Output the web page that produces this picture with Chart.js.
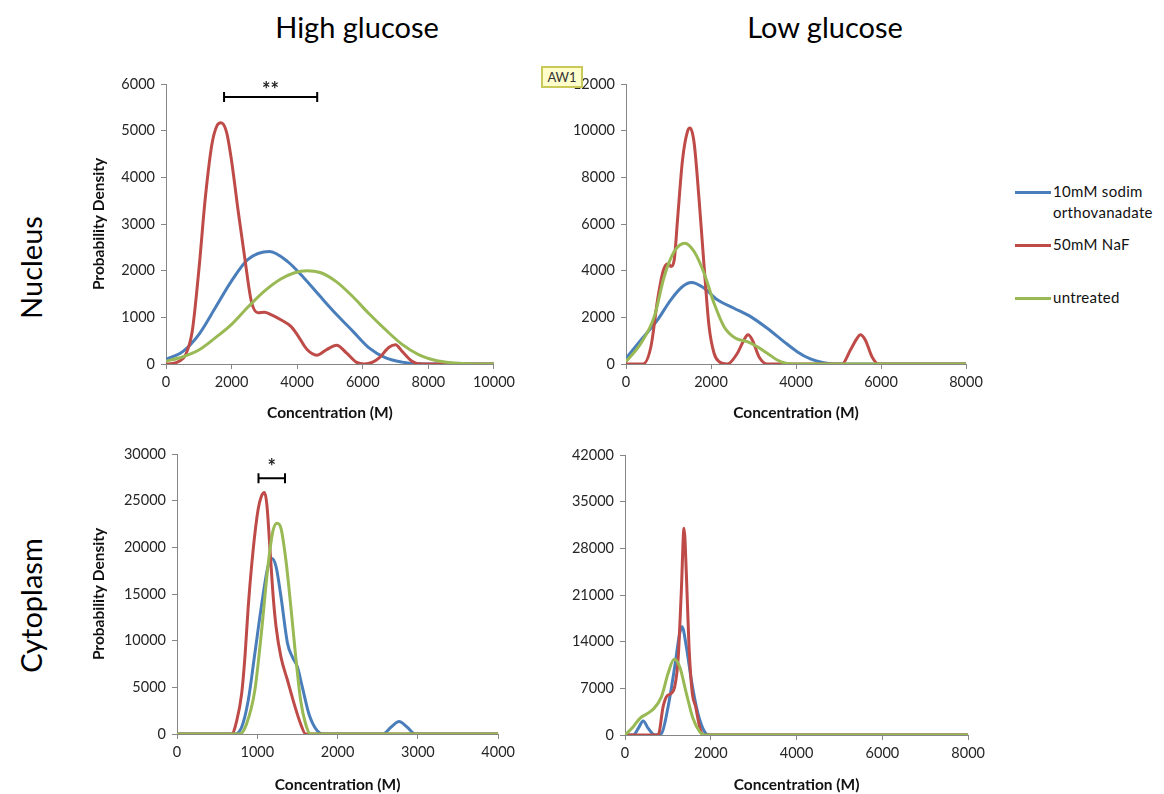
<!DOCTYPE html>
<html>
<head>
<meta charset="utf-8">
<script src="https://cdn.jsdelivr.net/npm/chart.js@4.4.0/dist/chart.umd.min.js"></script>
<style>
  body { margin: 0; background: #fff; width: 1164px; height: 794px; position: relative; overflow: hidden; font-family: Lato, "Open Sans", sans-serif; }
  canvas { position: absolute; }
  .head { position: absolute; width: 240px; text-align: center; font-size: 29px; color: #000; }
  .side { position: absolute; width: 240px; text-align: center; font-size: 29px; color: #000; transform: rotate(-90deg); }
  .legend { position: absolute; left: 1015px; font-size: 15px; color: #111; letter-spacing: 0.3px; }
  .legend div { position: absolute; width: 140px; line-height: 21px; }
  .legend span { position: absolute; width: 36px; height: 3px; left: 0; }
  .legend p { margin: 0 0 0 38px; }
  .aw { position: absolute; left: 541px; top: 66px; width: 38px; height: 18px; background: #ffffcc; border: 2px solid #c9c95a; font-size: 13px; line-height: 18px; text-align: center; color: #333; }
</style>
</head>
<body>
<div class="head" style="left:237px; top:9px;">High glucose</div>
<div class="head" style="left:705px; top:9px;">Low glucose</div>
<div class="side" style="left:-90px; top:250px;">Nucleus</div>
<div class="side" style="left:-90px; top:588px;">Cytoplasm</div>

<canvas id="chartHighNuc"></canvas>
<canvas id="chartLowNuc"></canvas>
<canvas id="chartHighCyto"></canvas>
<canvas id="chartLowCyto"></canvas>

<div class="legend" id="legend"></div>
<div class="aw">AW1</div>

<script>
// series names and colours
var seriesNames = ['10mM sodim orthovanadate', '50mM NaF', 'untreated'];
var seriesColors = ['#4a7ebb', '#be4b48', '#98b954'];

// High glucose - nucleus
var hnBlueX = [0, 500, 1000, 1500, 2000, 2500, 3150, 3700, 4200, 4700, 5200, 5700, 6200, 6700, 7200, 7700, 8200, 10000];
var hnBlue = [100, 260, 630, 1200, 1780, 2240, 2410, 2200, 1850, 1450, 1060, 700, 340, 130, 40, 5, 0, 0];
var hnRedX = [0, 200, 400, 600, 800, 1000, 1200, 1400, 1550, 1680, 1850, 2000, 2200, 2400, 2600, 2800, 3000, 3200, 3500, 3800, 4000, 4300, 4600, 4900, 5200, 5500, 5800, 6050, 6300, 6500, 6800, 7000, 7200, 7500, 7800, 10000];
var hnRed = [0, 10, 60, 200, 700, 2000, 3570, 4710, 5100, 5170, 4960, 4350, 3280, 2280, 1350, 1100, 1110, 1060, 950, 810, 630, 310, 190, 310, 400, 240, 40, 0, 40, 130, 360, 415, 270, 60, 0, 0];
var hnGreenX = [0, 500, 1000, 1500, 2000, 2500, 3000, 3500, 3900, 4300, 4700, 5200, 5700, 6200, 6700, 7200, 7700, 8200, 8700, 9200, 10000];
var hnGreen = [60, 150, 300, 560, 850, 1220, 1560, 1820, 1950, 2000, 1960, 1760, 1440, 1070, 730, 420, 200, 80, 25, 5, 0];
var hnSig = [1770, 4610, 5720, '**', 5930];

// Low glucose - nucleus
var lnBlueX = [0, 352, 743, 1055, 1330, 1540, 1838, 2150, 2541, 2933, 3323, 3714, 4027, 4340, 4653, 4966, 8000];
var lnBlue = [240, 1030, 1890, 2750, 3320, 3490, 3250, 2750, 2390, 2030, 1530, 960, 530, 215, 57, 0, 0];
var lnRedX = [0, 400, 586, 743, 860, 938, 1000, 1055, 1134, 1212, 1330, 1447, 1509, 1603, 1720, 1838, 1955, 2072, 2190, 2385, 2620, 2776, 2870, 2972, 3128, 3323, 5083, 5280, 5435, 5513, 5630, 5787, 5943, 8000];
var lnRed = [0, 0, 740, 2750, 3890, 4250, 4300, 4175, 4460, 6180, 8750, 9970, 10110, 9470, 7040, 4175, 1600, 460, 100, 0, 460, 1030, 1250, 1030, 315, 0, 0, 600, 1100, 1250, 1030, 315, 0, 0];
var lnGreenX = [0, 352, 665, 900, 1134, 1384, 1603, 1838, 2072, 2307, 2580, 2854, 3089, 3323, 3636, 3949, 8000];
var lnGreen = [100, 890, 2030, 3750, 4820, 5180, 4820, 3890, 2600, 1600, 1100, 960, 740, 460, 100, 0, 0];

// High glucose - cytoplasm
var hcBlueX = [0, 723, 805, 887, 969, 1050, 1132, 1181, 1234, 1295, 1377, 1438, 1500, 1561, 1643, 1745, 1826, 2562, 2664, 2766, 2868, 2970, 4000];
var hcBlue = [0, 0, 717, 3580, 8600, 13620, 17920, 18800, 17920, 14700, 9680, 8240, 7170, 5020, 2150, 360, 0, 0, 717, 1330, 717, 0, 0];
var hcRedX = [0, 682, 744, 805, 846, 887, 948, 1009, 1050, 1091, 1120, 1164, 1200, 1234, 1295, 1377, 1459, 1540, 1602, 4000];
var hcRed = [0, 0, 1430, 4300, 8240, 13620, 19700, 24000, 25450, 25880, 24500, 19000, 14500, 11470, 8240, 5730, 3230, 1075, 0, 0];
var hcGreenX = [0, 784, 866, 969, 1050, 1132, 1193, 1246, 1295, 1356, 1418, 1479, 1540, 1602, 1663, 4000];
var hcGreen = [0, 0, 1075, 4660, 10750, 17920, 21680, 22580, 22040, 18640, 13620, 8240, 3580, 1075, 0, 0];
var hcSig = [1015, 1345, 27400, '*', 28900];

// Low glucose - cytoplasm
var lcBlueX = [0, 193, 309, 425, 541, 696, 851, 1005, 1159, 1275, 1329, 1430, 1546, 1700, 1855, 1971, 8000];
var lcBlue = [0, 0, 1000, 2100, 1000, 0, 250, 4250, 10250, 15250, 16250, 13250, 8250, 3250, 500, 0, 0];
var lcRedX = [0, 773, 889, 966, 1082, 1159, 1237, 1314, 1376, 1430, 1492, 1569, 1646, 1739, 1817, 8000];
var lcRed = [0, 0, 4250, 5750, 6250, 7250, 11250, 21750, 31000, 24250, 13250, 6250, 4250, 1250, 0, 0];
var lcGreenX = [0, 193, 348, 503, 657, 851, 1005, 1144, 1275, 1430, 1584, 1739, 1855, 8000];
var lcGreen = [0, 1250, 2500, 3150, 3850, 5750, 9250, 11350, 10250, 6250, 2500, 500, 0, 0];

function pts(xs, ys) {
  return xs.map(function (x, i) { return { x: x, y: ys[i] }; });
}

// significance bar drawn through the chart scales
var sigPlugin = {
  id: 'sig',
  afterDatasetsDraw: function (chart, args, opts) {
    if (!opts.bar) return;
    var b = opts.bar;
    var xs = chart.scales.x, ys = chart.scales.y;
    var x1 = xs.getPixelForValue(b[0]), x2 = xs.getPixelForValue(b[1]), y = ys.getPixelForValue(b[2]);
    var ctx = chart.ctx;
    ctx.save();
    ctx.strokeStyle = '#000';
    ctx.lineWidth = 2;
    ctx.beginPath();
    ctx.moveTo(x1, y); ctx.lineTo(x2, y);
    ctx.moveTo(x1, y - 5); ctx.lineTo(x1, y + 5);
    ctx.moveTo(x2, y - 5); ctx.lineTo(x2, y + 5);
    ctx.stroke();
    ctx.fillStyle = '#222';
    ctx.font = 'bold 20px Lato';
    ctx.textAlign = 'center';
    ctx.textBaseline = 'middle';
    ctx.fillText(b[3], (x1 + x2) / 2, ys.getPixelForValue(b[4]) + 3);
    ctx.restore();
  }
};

function plain(v) { return String(v); }

function makeChart(id, box, area, xMax, xStep, yMax, yStep, yTitle, series, sig) {
  var cv = document.getElementById(id);
  cv.width = box.w;
  cv.height = box.h;
  cv.style.left = box.l + 'px';
  cv.style.top = box.t + 'px';
  var order = [3, 2, 1];
  var datasets = series.map(function (s, i) {
    return {
      label: seriesNames[i],
      data: pts(s[0], s[1]),
      borderColor: seriesColors[i],
      borderWidth: 3,
      pointRadius: 0,
      fill: false,
      cubicInterpolationMode: 'monotone',
      order: order[i]
    };
  });
  return new Chart(cv.getContext('2d'), {
    type: 'line',
    data: { datasets: datasets },
    plugins: [sigPlugin],
    options: {
      responsive: false,
      animation: false,
      layout: { padding: { top: area.t - box.t, right: box.l + box.w - area.r, left: 0, bottom: 0 } },
      plugins: {
        legend: { display: false },
        tooltip: { enabled: false },
        sig: { bar: sig }
      },
      scales: {
        x: {
          type: 'linear',
          min: 0, max: xMax,
          grid: { drawOnChartArea: false, color: '#868686', tickLength: 5, lineWidth: 1 },
          border: { color: '#868686', width: 1 },
          ticks: { stepSize: xStep, color: '#262626', font: { family: 'Lato', size: 14.5 }, padding: 5, maxRotation: 0, callback: plain },
          title: { display: true, text: 'Concentration (M)', color: '#111', font: { family: 'Lato', size: 15.5, weight: 'bold' }, padding: 0 },
          afterFit: function (s) { s.height = box.t + box.h - area.b; }
        },
        y: {
          min: 0, max: yMax,
          grid: { drawOnChartArea: false, color: '#868686', tickLength: 5, lineWidth: 1 },
          border: { color: '#868686', width: 1 },
          ticks: { stepSize: yStep, color: '#262626', font: { family: 'Lato', size: 14.5 }, padding: 6, callback: plain },
          title: { display: !!yTitle, text: yTitle || '', color: '#111', font: { family: 'Lato', size: 15.5, weight: 'bold' }, padding: 0 },
          afterFit: function (s) { s.width = area.l - box.l; }
        }
      }
    }
  });
}

makeChart('chartHighNuc', { l: 90, t: 60, w: 430, h: 362 }, { l: 166, t: 84, r: 500, b: 364 },
  10000, 2000, 6000, 1000, 'Probability Density',
  [[hnBlueX, hnBlue], [hnRedX, hnRed], [hnGreenX, hnGreen]], hnSig);

makeChart('chartLowNuc', { l: 560, t: 60, w: 430, h: 362 }, { l: 626, t: 84, r: 966, b: 364 },
  8000, 2000, 12000, 2000, null,
  [[lnBlueX, lnBlue], [lnRedX, lnRed], [lnGreenX, lnGreen]], null);

makeChart('chartHighCyto', { l: 90, t: 435, w: 430, h: 359 }, { l: 177, t: 454, r: 504, b: 734 },
  4000, 1000, 30000, 5000, 'Probability Density',
  [[hcBlueX, hcBlue], [hcRedX, hcRed], [hcGreenX, hcGreen]], hcSig);

makeChart('chartLowCyto', { l: 560, t: 435, w: 430, h: 359 }, { l: 625, t: 455, r: 970, b: 735 },
  8000, 2000, 42000, 7000, null,
  [[lcBlueX, lcBlue], [lcRedX, lcRed], [lcGreenX, lcGreen]], null);

// legend
var legendTops = [181, 234, 287];
var lg = document.getElementById('legend');
seriesNames.forEach(function (name, i) {
  var d = document.createElement('div');
  d.style.top = legendTops[i] + 'px';
  d.innerHTML = '<span style="top:10px;background:' + seriesColors[i] + '"></span><p>' + name + '</p>';
  lg.appendChild(d);
});
</script>
</body>
</html>
